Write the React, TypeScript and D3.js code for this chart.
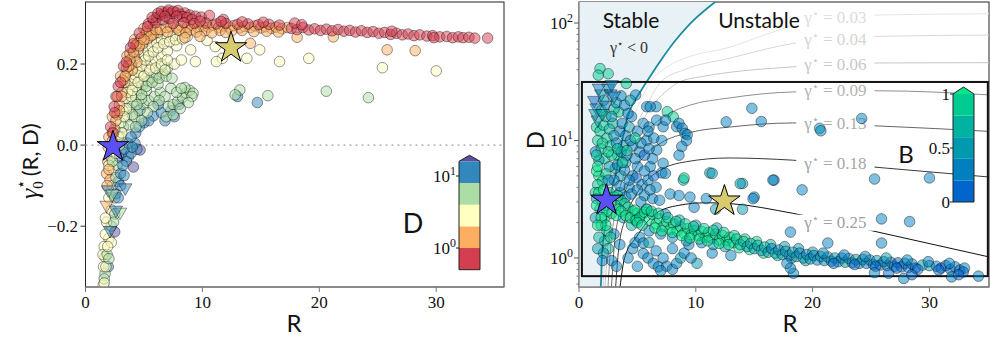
import React from 'react';
import * as d3 from 'd3';

// ---------- data ----------
// Left panel points: [R, gamma0*, D]
const leftTail: [number, number, number][] = [
  [1.95,-0.005,1.2],[1.8,-0.07,1.3],[2.1,-0.086,1.4],[1.9,-0.04,1.6],
  [2.2,-0.03,3],[2.4,-0.06,3.2],[2.3,-0.1,2.6],[2.0,-0.13,3],[2.2,-0.16,2.5],[2.5,-0.13,5.5],
  [2.7,-0.05,6],[2.9,-0.03,10],[3.1,-0.02,12],[3.67,-0.029,9],[3.5,-0.04,10],[4.24,0.004,12],[4.67,-0.012,22],[4.1,-0.054,22],
  [2.8,-0.09,11],[2.6,-0.12,12],[2.5,-0.17,6],[2.2,-0.2,5],[2.0,-0.23,3],[2.5,-0.214,22],[1.8,-0.19,3],[1.7,-0.22,3.3],
  [1.6,-0.25,3],[1.67,-0.276,2.8],[1.95,-0.3,11],[1.67,-0.317,5.5],[1.52,-0.346,3],[1.5,-0.27,3.5],[1.55,-0.3,2.5],[1.6,-0.33,5],[1.85,-0.27,6],
  [2.0,-0.05,2.2],[2.3,-0.04,6],[2.6,-0.08,5],[3.0,-0.07,10],[3.2,-0.05,12],[2.8,-0.13,10],[2.4,-0.19,6],[2.2,-0.24,3],[1.9,-0.25,2.5],[1.75,-0.3,3],[1.6,-0.34,2.5],[2.0,-0.28,5],[1.7,-0.18,2.2],[1.85,-0.1,1.8],[2.0,-0.06,1.6],
  [3.9,-0.02,9],[4.4,-0.01,10],[3.3,-0.075,11],[3.0,-0.1,9],
];
const leftTriangles: [number, number, number][] = [
  [1.95,-0.11,11],[3.4,-0.105,11],[1.8,-0.148,1.4],[2.95,-0.165,6],[2.1,-0.21,9],[2.6,-0.16,12],[2.3,-0.12,5],
];
const leftBlue: [number, number, number][] = [
  [3.3,-0.01,10],[3.6,0.005,11],[4.3,0.03,12],[4.0,-0.005,10],[5.0,0.055,11],[5.8,0.072,12],[6.5,0.08,11],[7.3,0.085,10],[6.2,0.1,9],[4.7,0.088,9],[13.0,0.12,9],[14.7,0.105,10],
  [3.9,0.02,9],[4.6,0.045,9],[5.4,0.06,9],[6.8,0.06,9],[7.6,0.07,9],[8.0,0.1,9],
];
const leftGreen: [number, number, number][] = [
  [3.0,0.02,5],[3.25,0.045,5.5],[3.5,0.07,6],[3.75,0.09,5],[4.0,0.105,5.5],[4.3,0.12,6],[4.6,0.135,5],[4.9,0.148,5.5],[5.3,0.158,6],[5.7,0.166,5],[6.1,0.172,5.5],[6.6,0.178,6],
  [4.2,0.07,7],[4.6,0.085,7],[5.0,0.1,7],[5.4,0.11,7],[5.9,0.12,7],[6.4,0.13,7],[5.2,0.135,6.5],[6.2,0.15,6.5],[4.8,0.115,6.5],
  [7.1,0.095,7.5],[7.5,0.1,7],[7.9,0.108,7.5],[8.3,0.118,7],[8.6,0.128,7.5],[8.9,0.135,7],[9.2,0.128,7.5],[8.5,0.142,6.5],
  [3.7,0.05,4.5],[4.0,0.075,4.5],[4.4,0.1,4.5],[4.8,0.125,4.5],[5.2,0.145,4.5],[5.7,0.155,4.5],[6.3,0.165,4.5],[6.9,0.17,4.5],[7.4,0.165,5],[7.3,0.14,6],[6.8,0.12,6],[6.3,0.11,6],[5.8,0.095,6],[5.3,0.08,6],[4.8,0.06,6],[4.3,0.045,6],[7.0,0.19,4.2],[6.5,0.195,4.2],[7.8,0.13,6.5],[8.2,0.14,6],[9.1,0.12,7],[8.8,0.105,7.5],[6.9,0.07,7.5],[7.5,0.075,7.5],[8.1,0.09,7.5],
  [13.2,0.136,6],[12.8,0.124,6.5],[20.6,0.133,6],[15.6,0.122,7.5],[24.2,0.117,7.5],
];
const leftYellow: [number, number, number][] = [
  [2.6,-0.02,2.8],[2.8,0.02,2.6],[3.0,0.055,2.8],[3.2,0.085,3],[3.4,0.115,2.6],[3.65,0.14,2.8],[3.9,0.16,3],[4.15,0.175,2.6],[4.4,0.19,2.8],[4.7,0.205,3],[5.0,0.22,2.6],[5.35,0.232,2.8],[5.7,0.242,3],[6.1,0.252,2.6],[6.5,0.26,2.8],[7.0,0.266,3],[7.5,0.27,2.6],[8.1,0.272,2.8],[8.7,0.268,3],
  [4.8,0.175,3.5],[5.2,0.19,3.5],[5.6,0.2,3.5],[6.0,0.21,3.5],[6.5,0.22,3.5],[7.0,0.232,3.5],[7.6,0.2,3.5],[8.2,0.21,3.5],[9.0,0.235,3.3],[9.4,0.206,3.3],[7.8,0.245,3.2],
  [10.4,0.258,2.5],[11.1,0.243,2.5],[11.7,0.214,2.5],[11.2,0.206,3.2],[3.5,0.09,3.6],[3.9,0.12,3.6],[4.3,0.145,3.6],
  [3.6,0.13,2.2],[3.9,0.15,2.4],[4.2,0.165,2.2],[4.5,0.18,2.4],[4.8,0.195,2.2],[5.1,0.21,2.4],[5.4,0.22,2.2],[5.8,0.23,2.4],[6.2,0.24,2.2],[6.7,0.25,2.4],[7.2,0.255,2.2],[7.7,0.26,2.4],[8.3,0.262,2.2],[4.0,0.135,3.8],[4.5,0.155,3.8],[5.0,0.17,3.8],[5.5,0.185,3.8],[6.0,0.19,3.8],[6.5,0.2,3.8],[7.0,0.21,3.8],[6.8,0.185,3.8],[3.3,0.07,3.8],[2.9,0.0,3.2],[3.1,0.03,3.4],
  [13.8,0.214,2.6],[14.9,0.235,2.6],[16.6,0.206,3],[19.1,0.214,3],[25.4,0.191,3],[30.0,0.183,3],
];
const leftOrange: [number, number, number][] = [
  [2.0,0.02,1.1],[2.3,0.07,1.1],[2.6,0.12,1.1],[3.0,0.17,1.1],[3.55,0.22,1.1],[4.2,0.26,1.1],[5.0,0.288,1.1],
  [2.3,0.01,1.5],[2.5,0.04,1.7],[2.7,0.075,1.5],[2.9,0.1,1.7],[3.1,0.13,1.5],[3.35,0.155,1.7],[3.6,0.18,1.5],[3.9,0.2,1.7],[4.2,0.22,1.5],[4.5,0.235,1.7],[4.9,0.25,1.5],[5.3,0.262,1.7],[5.8,0.272,1.5],[6.2,0.278,1.7],
  [4.3,0.245,1.3],[4.7,0.262,1.3],[5.2,0.275,1.3],[5.7,0.285,1.3],[3.8,0.225,1.3],[4.0,0.185,1.9],[4.4,0.205,1.9],
  [3.2,0.16,1.6],[3.5,0.19,1.4],[3.8,0.21,1.8],[4.1,0.23,1.4],[4.4,0.25,1.6],[4.8,0.265,1.8],[5.2,0.28,1.4],[5.6,0.27,1.9],[6.0,0.285,1.6],[4.6,0.245,1.9],[5.0,0.26,1.9],[3.4,0.17,1.9],[3.7,0.195,1.9],[2.9,0.085,1.9],[2.6,0.06,1.9],[2.4,0.03,1.9],[3.1,0.12,1.9],
  [6.4,0.285,1.3],[6.9,0.29,1.5],[7.3,0.292,1.2],[7.8,0.289,1.6],[8.2,0.294,1.3],[8.7,0.291,1.4],[9.1,0.295,1.2],[9.6,0.29,1.5],[10.0,0.294,1.3],[10.5,0.291,1.6],[10.9,0.296,1.2],[11.4,0.29,1.4],[11.8,0.294,1.3],[12.3,0.291,1.5],[12.7,0.295,1.2],[13.2,0.289,1.4],[13.6,0.293,1.3],[14.1,0.29,1.5],[14.5,0.294,1.2],[15.0,0.289,1.4],[15.4,0.292,1.3],[15.9,0.288,1.5],[16.3,0.291,1.2],[16.8,0.287,1.4],[17.3,0.29,1.3],
  [8.0,0.283,1.8],[9.0,0.284,1.8],[10.2,0.282,1.8],[11.5,0.283,1.8],[12.5,0.282,1.9],[13.4,0.283,1.8],
  [7.0,0.279,1.7],[8.6,0.277,1.7],[9.5,0.279,1.7],[10.8,0.277,1.7],[12.0,0.278,1.7],[14.4,0.28,1.7],[15.5,0.281,1.7],[16.5,0.279,1.7],
  [14.1,0.251,1.5],[18.1,0.266,1.2],[21.2,0.267,1.2],[25.8,0.235,1.5],[28.2,0.233,1.5],[8.5,0.265,1.6],[9.8,0.268,1.6],
];
const leftRed: [number, number, number][] = [
  [2.15,0.045,0.9],[2.45,0.095,0.9],[2.8,0.145,0.9],[3.25,0.195,0.9],[3.85,0.24,0.9],[4.6,0.276,0.9],
  [2.3,0.03,0.95],[2.5,0.08,0.95],[2.7,0.12,0.95],[3.0,0.155,0.95],[3.5,0.205,0.95],[4.1,0.25,0.95],
  [5.4,0.300,0.8],[5.8,0.308,0.7],[6.1,0.315,0.7],[6.4,0.321,0.6],[6.7,0.326,0.6],[7.0,0.328,0.7],[7.3,0.325,0.6],[7.7,0.327,0.6],[8.1,0.323,0.7],[8.5,0.326,0.6],[8.9,0.321,0.7],[9.4,0.318,0.7],[9.9,0.316,0.8],[10.6,0.32,0.6],[6.0,0.302,0.8],[6.6,0.309,0.8],[7.2,0.312,0.8],[11.8,0.31,0.8],
  [5.7,0.315,0.7],[6.2,0.325,0.6],[6.5,0.33,0.7],[7.1,0.333,0.6],[7.5,0.33,0.7],[7.9,0.332,0.6],[8.3,0.317,0.7],[8.7,0.315,0.6],[9.1,0.31,0.8],[5.3,0.292,0.8],[6.8,0.318,0.7],[7.8,0.318,0.7],
  [7.5,0.3,0.9],[8.4,0.302,0.9],[9.3,0.3,0.9],[10.3,0.301,0.9],[11.2,0.299,0.9],[12.0,0.3,0.9],[13.0,0.298,0.9],[13.9,0.299,0.9],[14.8,0.297,0.9],[15.7,0.298,0.9],[16.6,0.296,0.9],
  [9.8,0.306,0.9],[11.6,0.305,0.9],[13.4,0.304,0.9],[15.2,0.303,0.9],
  [17.6,0.288,0.8],[18.1,0.285,0.7],[18.6,0.29,0.8],[19.1,0.284,0.7],[19.6,0.287,0.8],[20.1,0.283,0.7],[20.6,0.286,0.8],[21.1,0.282,0.7],[21.6,0.285,0.8],[22.1,0.281,0.7],[22.6,0.283,0.8],[23.1,0.279,0.7],[23.6,0.282,0.8],[24.1,0.278,0.7],[24.6,0.28,0.8],[25.1,0.276,0.7],[25.6,0.278,0.8],[26.1,0.273,0.7],[26.6,0.276,0.8],[27.1,0.272,0.7],[27.6,0.274,0.8],[28.1,0.27,0.7],[28.6,0.272,0.8],[29.2,0.269,0.7],[29.7,0.27,0.8],[30.3,0.267,0.7],[30.9,0.268,0.8],[31.4,0.265,0.7],[31.9,0.267,0.6],[32.3,0.265,0.7],[32.8,0.266,0.6],[33.3,0.264,0.7],[34.4,0.264,0.9],
  [17.9,0.301,0.9],[18.5,0.297,0.9],[26.2,0.281,0.9],[29.8,0.265,0.9],
];

// Right panel points: [R, D, B]
const rightUpper: [number, number, number][] = [
  [1.8,41,0.95],[2.5,37,0.9],[1.65,36,0.95],[4.05,30.6,0.9],
  [1.5,13,0.9],[1.8,12,0.95],[2.1,13.5,0.85],[2.4,10.5,0.9],[1.6,10,0.85],[2.9,14,0.6],[1.9,8.5,0.8],[2.7,9,0.9],[3.3,7.5,0.85],[2.2,7,0.9],[3.4,17.5,0.9],[3.0,18.5,0.7],[2.3,16,0.75],[1.9,18,0.6],
  [2.1,22,0.5],[2.8,16,0.45],[3.2,21,0.4],[3.5,12,0.3],[4.0,11,0.35],[3.7,14,0.3],[4.3,13,0.4],[2.6,12.5,0.6],[3.0,11,0.5],[3.8,9,0.45],[4.5,16,0.2],[4.85,24.4,0.25],[5.8,19.4,0.2],[6.6,19.4,0.25],[6.1,19.4,0.3],[5.0,12,0.3],[5.5,14,0.25],[4.6,9,0.35],[5.2,8,0.35],[5.8,10,0.3],[6.0,13,0.2],[6.65,14.9,0.3],[7.2,13.1,0.25],[7.56,17.6,0.9],[8.07,15.9,0.8],[7.4,14.9,0.2],[8.36,13.1,0.25],[8.56,14,0.3],[8.84,12.7,0.2],[9.07,11.5,0.25],[9.27,11.2,0.3],[9.2,10,0.2],[8.8,8.9,0.25],[8.56,7.5,0.3],[7.08,10,0.3],[6.65,8.3,0.25],[7.2,6.4,0.35],[6.1,6.0,0.3],[7.08,5.3,0.25],[5.0,6,0.35],[4.0,6.5,0.5],[4.6,5,0.25],[5.6,5.5,0.3],[6.3,7,0.2],[3.1,5.8,0.5],[3.6,5,0.45],[1.7,6.8,0.5],[1.4,8,0.3],[2.6,6,0.4],
  [3.2,9.5,0.25],[3.6,8,0.2],[4.1,7.5,0.3],[4.4,10,0.2],[4.8,7,0.25],[5.3,9.5,0.2],[5.6,7.5,0.15],[6.0,8.5,0.3],[6.4,10.5,0.2],[3.3,6.2,0.3],[3.9,5.6,0.2],[4.3,4.0,0.2],[4.9,4.8,0.15],[5.4,4.2,0.3],[5.9,4.6,0.2],[6.4,5.0,0.15],[6.6,4.0,0.3],[3.0,4.6,0.2],[3.5,3.6,0.35],[4.0,3.3,0.2],[5.6,3.4,0.2],[6.3,3.2,0.35],[5.9,12,0.35],[4.2,17,0.3],[3.9,20,0.25],[3.6,24,0.3],[4.4,22,0.45],
  [1.7,5.0,1.05],[2.3,5.2,0.95],[2.8,7.5,0.9],[3.3,8.5,0.9],[4.1,8.2,0.85],[3.7,6.5,0.95],[4.8,10.5,0.85],[2.0,9.5,0.95],[2.5,8.0,0.85],[1.5,7.5,0.9],
];
const rightTriangles: [number, number, number][] = [
  [1.3,22,0.15],[1.5,19,0.3],[1.9,25,0.4],[2.5,28,0.2],[2.7,25,0.2],[1.6,15,0.5],[2.3,20,0.3],[1.4,17,0.5],[2.0,17,0.6],[3.0,24,0.35],[2.8,30,0.25],[1.7,28,0.3],
];
const rightCluster: [number, number, number][] = [
  [1.5,5.5,1.05],[1.6,6,1.0],[2.0,4.5,0.9],[2.6,3.6,0.9],[3.0,3.3,1.0],[3.3,3.4,1.05],[3.6,3.1,0.95],[3.9,2.9,0.9],[4.2,2.7,0.85],[3.1,2.8,0.9],[1.8,2.6,0.9],[2.2,2.2,0.85],[1.9,1.9,0.9],[2.4,1.7,0.8],[2.8,2.4,0.9],[3.4,2.6,0.8],[2.2,1.4,0.7],[2.5,1.2,0.6],[1.7,1.5,0.7],[2.1,1.1,0.5],[1.6,4.2,0.9],[1.4,3.6,0.8],[4.6,2.5,0.95],[5.0,2.4,1.05],[5.4,2.35,0.9],[2.0,3.0,0.95],
  [2.5,4.6,0.3],[3.5,4.1,0.3],[4.5,3.5,0.25],[4.3,4.6,0.3],[5.0,3.8,0.2],[5.3,3.0,0.3],[4.8,2.1,0.35],[1.5,3.2,0.4],[1.4,2.2,0.5],[1.6,1.2,0.4],[2.0,0.95,0.3],[2.3,2.8,0.4],[3.8,2.2,0.4],[4.5,1.9,0.6],[5.8,2.6,0.3],[6.08,3.8,0.25],[7.8,3.5,0.2],[9.5,3.3,0.25],[10.9,3.2,0.3],[6.9,3.1,0.3],[8.93,4.6,0.7],[11.2,5.3,0.45],[7.4,5.25,0.2],[9.0,4.8,0.8],[11.4,5.25,0.45],[14.0,4.3,0.45],[15.0,3.3,0.25],[16.7,4.6,0.2],[8.56,3.4,0.2],[9.85,2.7,0.2],[11.7,2.6,0.45],[14.0,2.6,0.45],[3.0,1.6,0.3],[3.5,1.3,0.35],[2.8,0.95,0.25],[3.2,0.85,0.2],
  [1.5,2.8,1.1],[1.7,3.6,1.05],[2.1,3.8,1.1],[2.4,2.5,1.05],[2.7,3.0,1.1],[3.2,2.3,1.05],[3.6,2.5,1.1],[4.0,2.3,1.05],[1.9,2.2,1.1],[2.3,1.9,1.05],[2.7,1.5,0.95],[1.6,1.9,1.1],[4.4,2.2,1.05],[4.9,2.1,1.1],
];
const rightLoop: [number, number, number][] = [
  [4.6,1.2,0.25],[4.8,1.35,0.3],[5.2,1.5,0.2],[5.5,1.09,0.25],[5.9,1.0,0.2],[6.36,0.9,0.2],[6.8,0.84,0.3],[7.5,0.85,0.3],[8.0,0.8,0.25],[8.36,0.9,0.35],[8.7,1.0,0.4],[9.0,1.1,0.3],[6.6,1.15,0.3],[7.2,1.0,0.35],[8.0,1.2,0.25],[4.2,1.0,0.3],[10.1,0.9,0.5],[11.4,1.1,0.25],[5.0,0.85,0.3],[9.4,1.3,0.2],[5.5,1.34,0.3],[7.0,0.78,0.2],[6.0,1.35,0.4],[9.6,1.0,0.35],[13.0,1.05,0.2],
];
const rightBand: [number, number, number][] = [
  [4.8,2.55,1.0],[5.2,2.2,0.95],[5.6,2.45,1.05],[6.0,2.1,1.0],[6.3,2.35,0.9],[6.6,1.95,1.05],[6.9,2.15,1.1],[7.2,1.85,0.95],[7.5,2.05,1.05],[7.8,1.75,1.0],[8.1,1.95,0.9],[8.4,1.7,1.05],[8.7,1.85,0.95],[9.0,1.62,1.0],[9.3,1.78,1.1],[9.6,1.58,0.9],[9.9,1.72,1.05],[10.2,1.55,0.95],[10.5,1.68,1.0],[10.8,1.5,0.9],[11.1,1.65,1.1],[11.4,1.47,1.0],[11.7,1.6,0.95],[12.0,1.42,0.85],[12.3,1.55,1.05],[12.6,1.4,0.9],[12.9,1.5,1.0],[13.2,1.35,0.8],
  [6.0,1.7,0.3],[7.0,1.6,0.35],[8.0,1.5,0.3],[9.2,1.4,0.4],[10.5,1.35,0.3],[11.5,1.3,0.45],[12.5,1.25,0.4],[7.4,2.35,0.3],[8.6,2.1,0.45],[10.0,1.9,0.4],[11.8,1.8,0.5],
  [5.0,2.0,1.1],[5.4,1.9,0.9],[5.8,2.6,1.1],[6.2,2.5,0.95],[6.5,1.8,1.1],[6.8,2.4,0.9],[7.1,1.7,1.1],[7.6,2.2,0.95],[8.0,1.65,1.1],[8.3,2.05,0.9],[8.8,1.55,1.1],[9.1,1.95,0.95],[9.5,1.48,1.1],[9.8,1.85,0.9],[10.3,1.45,1.1],[10.7,1.78,0.95],[11.0,1.4,1.1],[11.5,1.72,0.9],[12.0,1.33,1.1],[12.4,1.65,0.95],[12.8,1.3,1.1],[13.3,1.55,0.95],[13.7,1.22,1.05],[14.2,1.45,0.9],[14.6,1.18,1.0],[15.2,1.38,0.85],[15.8,1.1,0.8],[16.4,1.3,0.7],[17.0,1.05,0.6],[17.6,1.25,0.5],[18.2,1.0,0.5],[18.8,1.2,0.4],[19.4,0.95,0.5],[20.0,1.12,0.4],
  [13.5,1.45,0.9],[13.8,1.3,0.6],[14.1,1.38,0.8],[14.4,1.25,0.5],[14.7,1.33,0.7],[15.0,1.2,0.4],[15.3,1.28,0.6],[15.6,1.16,0.45],[15.9,1.24,0.7],[16.2,1.12,0.5],[16.5,1.2,0.35],[16.8,1.1,0.6],[17.1,1.17,0.3],[17.4,1.07,0.5],[17.7,1.14,0.4],[18.0,1.05,0.3],[18.3,1.12,0.55],[18.6,1.03,0.4],[18.9,1.1,0.3],[19.2,1.0,0.45],[19.5,1.07,0.25],[19.8,0.98,0.5],[20.1,1.05,0.35],
  [20.4,0.96,0.3],[20.7,1.03,0.45],[21.0,0.95,0.2],[21.3,1.02,0.4],[21.6,0.94,0.3],[21.9,1.0,0.5],[22.2,0.93,0.25],[22.5,1.0,0.35],[22.8,0.92,0.45],[23.1,0.99,0.3],[23.4,0.91,0.2],[23.7,0.97,0.4],[24.0,0.9,0.3],[24.3,0.97,0.5],[24.6,0.9,0.25],[24.9,0.96,0.35],[25.2,0.88,0.2],[25.5,0.95,0.45],[25.8,0.87,0.15],[26.1,0.93,0.3],[26.4,0.86,0.2],[26.7,0.92,0.1],[27.0,0.85,0.25],[27.3,0.91,0.15],[27.6,0.84,0.1],[27.9,0.9,0.2],[28.2,0.83,0.15],[28.5,0.89,0.3],[28.8,0.82,0.1],[29.4,0.87,0.4],[30.0,0.86,0.45],[30.6,0.85,0.2],[31.0,0.82,0.1],[31.4,0.86,0.15],[31.8,0.8,0.1],[32.2,0.84,0.2],[32.6,0.79,0.15],[33.0,0.82,0.3],[34.2,0.7,0.2],
  [20.9,1.1,0.3],[21.8,0.9,0.15],[22.7,1.06,0.35],[23.6,0.88,0.15],[24.5,1.03,0.3],[25.4,0.85,0.1],[26.3,1.0,0.4],[27.2,0.82,0.1],[28.1,0.96,0.3],[29.0,0.8,0.15],[29.9,0.93,0.35],[30.8,0.79,0.1],[31.7,0.9,0.3],[32.9,0.76,0.15],
  [18.35,0.74,0.2],[18.1,0.82,0.25],[25.3,0.75,0.2],[26.5,0.74,0.15],[27.8,0.67,0.2],[28.5,0.72,0.1],[31.9,0.69,0.2],[32.5,0.72,0.15],[17.8,0.9,0.3],
];
const rightScatter: [number, number, number][] = [
  [12.6,14.4,0.25],[14.8,18.8,0.2],[15.6,14.5,0.2],[20.6,12.7,0.45],[20.7,12.1,0.35],[24.2,15.4,0.2],[16.6,4.6,0.2],[19.1,3.8,0.2],[25.3,4.7,0.2],[30.0,4.8,0.2],[25.9,2.15,0.2],[28.3,2.04,0.2],[25.9,1.34,0.2],[18.1,1.66,0.2],[21.3,1.34,0.2],[14.9,3.2,0.2],[13.8,4.3,0.45],
];

// Reference cases marked with stars: R, gamma0*, D
const starCases = [
  { R: 2.35, g: -0.004, D: 3.1, color: '#5a50f5' },
  { R: 12.45, g: 0.24, D: 3.05, color: '#d8ca6e' },
];

// Contours of gamma*(R, D): [R, D]
const contourZero: [number, number][] = [
  [1.82,0.5],[1.86,0.566],[2.0,1.2],[2.3,2],[2.6,3.1],[3.1,5],[3.7,10],[4.45,19],[5.74,31],[7,48],[8.3,72],[10,110],[11.65,151],[12.5,175],
];
const contour003: [number, number][] = [[1.95,0.5],[2.1,1.2],[2.45,2.5],[2.95,5],[3.95,10],[5.0,19],[6.1,31.5],[7.5,42],[9.5,52],[12.85,62],[16,80],[18.3,95],[22,110],[25.6,117],[35.5,120]];
const contour004: [number, number][] = [[2.05,0.5],[2.25,1.2],[2.6,2.5],[3.15,5],[4.1,9],[4.8,13],[5.8,20],[7.0,31.5],[9,40],[12.85,50],[18.3,67],[25.6,77],[35.5,79]];
const contour006: [number, number][] = [[2.2,0.5],[2.45,1.2],[2.85,2.5],[3.4,5],[4.3,9],[5.3,14],[6.5,21],[7.6,27],[8.6,31.5],[10.5,35],[12.85,38],[18.3,42.3],[25.6,45.7],[35.5,46]];
const contour009: [number, number][] = [[2.45,0.5],[2.7,1.2],[3.1,2.5],[3.8,5],[4.8,8.5],[6,12.5],[7.5,16.5],[9.5,20],[12.85,23],[18.3,25.9],[25.6,26.5],[35.5,24.3]];
const contour013: [number, number][] = [[2.75,0.5],[3.0,1.2],[3.5,2.5],[4.3,4.5],[5.4,7],[7,9.5],[9.5,11.7],[12.85,13],[18.3,14.1],[25.6,13.3],[35.5,11.9]];
const contour018: [number, number][] = [[3.1,0.5],[3.4,1.2],[4.0,2.2],[5.0,3.6],[6.7,5.4],[9.2,6.6],[12.85,7.1],[18.3,6.8],[25.6,5.9],[35.5,4.85]];
const contour025: [number, number][] = [[3.45,0.5],[3.9,1.0],[4.9,1.5],[6.6,2.4],[8.5,2.8],[10.9,2.95],[13,2.9],[18.3,2.4],[25.6,1.66],[35.5,1.0]];
const contourLevels = ['0.03','0.04','0.06','0.09','0.13','0.18','0.25'];

// Colour bins
const dBinEdges = [0.5, 1, 2, 4, 8, 16];
const dPalette = ['#d53e4f','#fdae61','#ffffbf','#abdda4','#3288bd','#5e4fa2'];
const bBinEdges = [0, 0.2, 0.4, 0.6, 0.8, 1.0];
const bPalette = ['#0066cc','#0080bf','#0099b0','#00b3a0','#00cc91','#00e68a'];

const xTicks = [0, 10, 20, 30];
const gammaTicks = [-0.2, 0.0, 0.2];
const dTicks = [1, 10, 100];

// ---------- layout ----------
const SERIF = "'Liberation Serif', 'Times New Roman', serif";
const SANS = "Lato, 'Open Sans', sans-serif";
const LP = { x0: 85.5, x1: 504, y0: 2, y1: 287 };
const RP = { x0: 579, x1: 989, y0: 2, y1: 287 };

const xL = d3.scaleLinear().domain([0, 35.8]).range([LP.x0, LP.x1]);
const yL = d3.scaleLinear().domain([-0.35, 0.353]).range([LP.y1, LP.y0]);
const xR = d3.scaleLinear().domain([0, 35.1]).range([RP.x0, RP.x1]);
const yR = d3.scaleLog().domain([0.566, 151]).range([RP.y1, RP.y0]);

const dColor = d3.scaleThreshold<number, string>().domain(dBinEdges.slice(1)).range(dPalette);
const bColor = d3.scaleThreshold<number, string>().domain(bBinEdges.slice(1)).range(bPalette);

const cbL = { x: 459, w: 21, scale: d3.scaleLog().domain([0.5, 16]).range([269.7, 161.3]) };
const cbR = { x: 953, w: 21, scale: d3.scaleLinear().domain([0, 1]).range([202, 94]) };

const starPath = d3.symbol(d3.symbolStar, 306)()!;
const triPath = d3.symbol(d3.symbolTriangle, 78)()!;

const contours = [contour003, contour004, contour006, contour009, contour013, contour018, contour025];
const contourStroke = ['#e4e4e4','#d8d8d8','#c6c6c6','#8f8f8f','#666','#3a3a3a','#111'];
const contourText = ['#dcdcdc','#d4d4d4','#c8c8c8','#b4b4b4','#acacac','#a6a6a6','#a0a0a0'];
const labelR = 21.95;

function interpLogD(pts: [number, number][], R: number) {
  for (let i = 0; i < pts.length - 1; i++) {
    const [r0, d0] = pts[i], [r1, d1] = pts[i + 1];
    if (R >= r0 && R <= r1) {
      const t = (R - r0) / (r1 - r0);
      return Math.pow(10, Math.log10(d0) + t * (Math.log10(d1) - Math.log10(d0)));
    }
  }
  return pts[pts.length - 1][1];
}

const contourLine = d3.line<[number, number]>().x(d => xR(d[0])).y(d => yR(d[1])).curve(d3.curveMonotoneX);
const zeroLine = d3.line<[number, number]>().x(d => xR(d[0])).y(d => yR(d[1])).curve(d3.curveMonotoneY);
const stableArea = d3.area<[number, number]>().y(d => yR(d[1])).x0(RP.x0).x1(d => xR(d[0])).curve(d3.curveMonotoneY);

const ptStyle = { fillOpacity: 0.5, stroke: '#000', strokeOpacity: 0.5, strokeWidth: 0.8 };

function Sup({ base, exp, x, y, size = 17, anchor = 'end' }: any) {
  return (
    <text x={x} y={y} style={{ fontFamily: SERIF }} fontSize={size} textAnchor={anchor} fill="#111">
      {base}<tspan dy={-7} fontSize={size * 0.7}>{exp}</tspan>
    </text>
  );
}

export default function App() {
  const leftCircles = [...leftTail, ...leftBlue, ...leftGreen, ...leftYellow, ...leftOrange, ...leftRed];
  const rightCircles = [...rightUpper, ...rightCluster, ...rightLoop, ...rightBand, ...rightScatter];
  const labels = contours.map((c, i) => {
    const d = interpLogD(c, labelR);
    return { y: yR(d), text: contourLevels[i], fill: contourText[i] };
  });
  const minorD: number[] = [];
  for (let e = -1; e <= 2; e++) for (let m = 2; m <= 9; m++) {
    const v = m * Math.pow(10, e);
    if (v >= 0.566 && v <= 151) minorD.push(v);
  }
  const serif = { fontFamily: SERIF };
  const sans = { fontFamily: SANS };

  return (
    <svg width={990} height={337} style={{ position: 'absolute', left: 0, top: 0, background: '#fff' }}>
      <defs>
        <clipPath id="clipL"><rect x={LP.x0} y={LP.y0} width={LP.x1 - LP.x0} height={LP.y1 - LP.y0} /></clipPath>
        <clipPath id="clipR"><rect x={RP.x0} y={RP.y0} width={RP.x1 - RP.x0} height={RP.y1 - RP.y0} /></clipPath>
        <mask id="labelGap">
          <rect x={0} y={0} width={990} height={337} fill="#fff" />
          {labels.map((l, i) => (
            <rect key={i} x={xR(18.6)} y={l.y - 8} width={xR(25.3) - xR(18.6)} height={16} fill="#000" />
          ))}
        </mask>
      </defs>

      {/* ---------- left panel ---------- */}
      <rect x={LP.x0} y={LP.y0} width={LP.x1 - LP.x0} height={LP.y1 - LP.y0} fill="#fff" stroke="#222" strokeWidth={1} />
      <line x1={LP.x0} x2={LP.x1} y1={yL(0)} y2={yL(0)} stroke="#bdbdbd" strokeWidth={1.8} strokeDasharray="2,4" />
      <g clipPath="url(#clipL)">
        {leftCircles.map((p, i) => (
          <circle key={i} cx={xL(p[0])} cy={yL(p[1])} r={5.3} fill={dColor(p[2])} {...ptStyle} />
        ))}
        {leftTriangles.map((p, i) => (
          <path key={i} d={triPath} transform={`translate(${xL(p[0])},${yL(p[1])}) rotate(180)`} fill={dColor(p[2])} {...ptStyle} />
        ))}
        {starCases.map((s, i) => (
          <path key={i} d={starPath} transform={`translate(${xL(s.R)},${yL(s.g)})`} fill={s.color} stroke="#000" strokeWidth={1} />
        ))}
      </g>
      <line x1={LP.x0} x2={LP.x1} y1={LP.y1} y2={LP.y1} stroke="#888" strokeWidth={1.6} />
      {xTicks.map(t => (
        <g key={t}>
          <line x1={xL(t)} x2={xL(t)} y1={LP.y1} y2={LP.y1 + 5} stroke="#777" />
          <text x={xL(t)} y={308} textAnchor="middle" style={serif} fontSize={17} fill="#111">{t}</text>
        </g>
      ))}
      {gammaTicks.map(t => (
        <g key={t}>
          <line x1={LP.x0 - 5} x2={LP.x0} y1={yL(t)} y2={yL(t)} stroke="#333" />
          <text x={78} y={yL(t) + 6} textAnchor="end" style={serif} fontSize={17} fill="#111">{t < 0 ? `−${Math.abs(t).toFixed(1)}` : t.toFixed(1)}</text>
        </g>
      ))}
      <text x={294} y={332} textAnchor="middle" style={sans} fontSize={24} fill="#111">R</text>
      <text transform="translate(38,199) rotate(-90)" textAnchor="start" fontSize={22} fill="#111">
        <tspan style={serif} fontStyle="italic" fontSize={26}>γ</tspan>
        <tspan style={serif} fontSize={15} dy={5}>0</tspan>
        <tspan style={serif} fontSize={15} dx={-8} dy={-17}>⋆</tspan>
        <tspan style={sans} dx={4} dy={12}>(R, D)</tspan>
      </text>

      {/* D colour bar */}
      {dPalette.slice(0, 5).map((c, i) => (
        <rect key={i} x={cbL.x} y={cbL.scale(dBinEdges[i + 1])} width={cbL.w} height={cbL.scale(dBinEdges[i]) - cbL.scale(dBinEdges[i + 1])} fill={c} />
      ))}
      <path d={`M${cbL.x},${cbL.scale(16)} L${cbL.x + cbL.w / 2},${cbL.scale(16) - 6} L${cbL.x + cbL.w},${cbL.scale(16)} Z`} fill={dPalette[5]} />
      <path d={`M${cbL.x},${cbL.scale(16)} L${cbL.x + cbL.w / 2},${cbL.scale(16) - 6} L${cbL.x + cbL.w},${cbL.scale(16)} L${cbL.x + cbL.w},${cbL.scale(0.5)} L${cbL.x},${cbL.scale(0.5)} Z`} fill="none" stroke="#222" strokeWidth={1} />
      {[1, 10].map((t, i) => (
        <g key={t}>
          <line x1={cbL.x - 3} x2={cbL.x} y1={cbL.scale(t)} y2={cbL.scale(t)} stroke="#222" />
          <Sup base="10" exp={String(i)} x={456} y={cbL.scale(t) + 6} />
        </g>
      ))}
      <text x={413} y={233} textAnchor="middle" style={sans} fontSize={27} fill="#111">D</text>

      {/* ---------- right panel ---------- */}
      <rect x={RP.x0} y={RP.y0} width={RP.x1 - RP.x0} height={RP.y1 - RP.y0} fill="#fff" stroke="#222" strokeWidth={1} />
      <g clipPath="url(#clipR)">
        <path d={stableArea(contourZero)!} fill="#e8f2f6" />
        <g mask="url(#labelGap)">
          {contours.map((c, i) => (
            <path key={i} d={contourLine(c)!} fill="none" stroke={contourStroke[i]} strokeWidth={1} />
          ))}
        </g>
        <path d={zeroLine(contourZero)!} fill="none" stroke="#1a8c9e" strokeWidth={1.8} />
      </g>
      {labels.map((l, i) => (
        <text key={i} x={xR(labelR)} y={l.y + 5} textAnchor="middle" style={serif} fontSize={17} fill={l.fill}>
          γ<tspan dy={-6} fontSize={11}>⋆</tspan><tspan dy={6}> = {l.text}</tspan>
        </text>
      ))}
      <text x={631} y={28} textAnchor="middle" style={sans} fontSize={21} fill="#111">Stable</text>
      <text x={759} y={28} textAnchor="middle" style={sans} fontSize={21} fill="#111">Unstable</text>
      <text x={629} y={53} textAnchor="middle" style={serif} fontSize={16} fill="#333">
        γ<tspan dy={-6} fontSize={10}>⋆</tspan><tspan dy={6}> &lt; 0</tspan>
      </text>
      <rect x={xR(0.25)} y={yR(31.5)} width={xR(35) - xR(0.25)} height={yR(0.7) - yR(31.5)} fill="none" stroke="#111" strokeWidth={2} />
      <g clipPath="url(#clipR)">
        {rightCircles.map((p, i) => (
          <circle key={i} cx={xR(p[0])} cy={yR(p[1])} r={5.3} fill={bColor(p[2])} {...ptStyle} />
        ))}
        {rightTriangles.map((p, i) => (
          <path key={i} d={triPath} transform={`translate(${xR(p[0])},${yR(p[1])}) rotate(180)`} fill={bColor(p[2])} {...ptStyle} />
        ))}
        {starCases.map((s, i) => (
          <path key={i} d={starPath} transform={`translate(${xR(s.R)},${yR(s.D)})`} fill={s.color} stroke="#000" strokeWidth={1} />
        ))}
      </g>
      <line x1={RP.x0} x2={RP.x1} y1={RP.y1} y2={RP.y1} stroke="#888" strokeWidth={1.6} />
      <line x1={RP.x0} x2={RP.x0} y1={RP.y0} y2={RP.y1} stroke="#888" strokeWidth={1.4} />
      {xTicks.map(t => (
        <g key={t}>
          <line x1={xR(t)} x2={xR(t)} y1={RP.y1} y2={RP.y1 + 5} stroke="#777" />
          <text x={xR(t)} y={308} textAnchor="middle" style={serif} fontSize={17} fill="#111">{t}</text>
        </g>
      ))}
      {minorD.map(v => (
        <line key={v} x1={RP.x0 - 2.5} x2={RP.x0} y1={yR(v)} y2={yR(v)} stroke="#777" />
      ))}
      {dTicks.map((t, i) => (
        <g key={t}>
          <line x1={RP.x0 - 5} x2={RP.x0} y1={yR(t)} y2={yR(t)} stroke="#555" />
          <Sup base="10" exp={String(i)} x={573} y={yR(t) + 6} />
        </g>
      ))}
      <text x={790} y={332} textAnchor="middle" style={sans} fontSize={24} fill="#111">R</text>
      <text transform="translate(544,140) rotate(-90)" textAnchor="middle" style={sans} fontSize={24} fill="#111">D</text>

      {/* B colour bar */}
      {bPalette.slice(0, 5).map((c, i) => (
        <rect key={i} x={cbR.x} y={cbR.scale(bBinEdges[i + 1])} width={cbR.w} height={cbR.scale(bBinEdges[i]) - cbR.scale(bBinEdges[i + 1])} fill={c} />
      ))}
      <path d={`M${cbR.x},${cbR.scale(1)} L${cbR.x + cbR.w / 2},${cbR.scale(1) - 7} L${cbR.x + cbR.w},${cbR.scale(1)} Z`} fill={bPalette[5]} />
      <path d={`M${cbR.x},${cbR.scale(1)} L${cbR.x + cbR.w / 2},${cbR.scale(1) - 7} L${cbR.x + cbR.w},${cbR.scale(1)} L${cbR.x + cbR.w},${cbR.scale(0)} L${cbR.x},${cbR.scale(0)} Z`} fill="none" stroke="#222" strokeWidth={1} />
      {[0, 0.5, 1].map(t => (
        <g key={t}>
          <line x1={cbR.x - 3} x2={cbR.x} y1={cbR.scale(t)} y2={cbR.scale(t)} stroke="#222" />
          <text x={950} y={cbR.scale(t) + 6} textAnchor="end" style={serif} fontSize={17} fill="#111">{t}</text>
        </g>
      ))}
      <text x={906} y={163} textAnchor="middle" style={sans} fontSize={24} fill="#111">B</text>
    </svg>
  );
}
